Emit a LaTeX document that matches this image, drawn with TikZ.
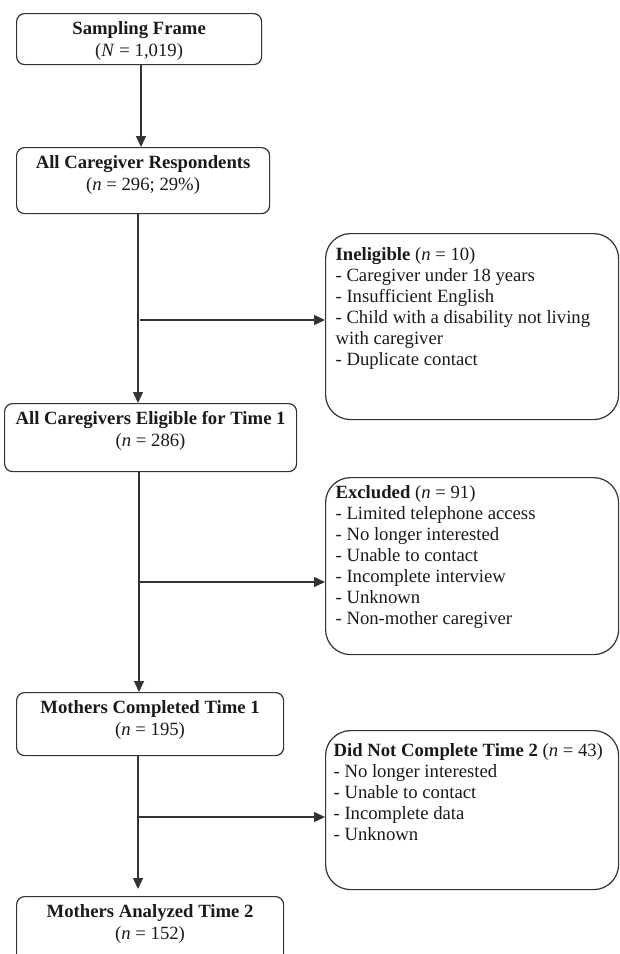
\documentclass[tikz,border=0pt]{standalone}
\usepackage{fontspec}
\setmainfont{Liberation Serif}
\usetikzlibrary{arrows.meta,calc}
\definecolor{linec}{HTML}{333333}
\definecolor{textc}{HTML}{1A1A1A}
\newcommand\mainbody[3]{\begin{minipage}[t][#2][t]{#1}\centering\fontsize{18.7}{22}\selectfont\strut #3\end{minipage}}
\newcommand\sidebody[3]{\begin{minipage}[t][#2][t]{#1}\raggedright\fontsize{18.7}{21}\selectfont\strut #3\end{minipage}}
\begin{document}
\begin{tikzpicture}[x=1pt,y=-1pt,
  text=textc,
  mainbox/.style={draw=linec, line width=1.2pt, rounded corners=8pt, inner xsep=4pt, inner ysep=5pt, anchor=north west},
  sidebox/.style={draw=linec, line width=1.2pt, rounded corners=25pt, inner xsep=10pt, inner ysep=12pt, anchor=north west},
  conn/.style={draw=linec, line width=1.3pt, -{Triangle[length=11pt,width=10pt]}},
  plain/.style={draw=linec, line width=1.3pt}]
\useasboundingbox (0,0) rectangle (620,954);
\clip (0,0) rectangle (620,954);

% main column boxes
\node[mainbox] (b1) at (16,13) {\mainbody{237pt}{41pt}{\textbf{Sampling Frame}\\(\textit{N} = 1,019)}};
\node[mainbox] (b2) at (16,147) {\mainbody{245pt}{56pt}{\textbf{All Caregiver Respondents}\\(\textit{n} = 296; 29\%)}};
\node[mainbox] (b3) at (4,403) {\mainbody{284pt}{58pt}{\textbf{All Caregivers Eligible for Time 1}\\(\textit{n} = 286)}};
\node[mainbox] (b4) at (16,692) {\mainbody{259pt}{53pt}{\textbf{Mothers Completed Time 1}\\(\textit{n} = 195)}};
\node[mainbox] (b5) at (16,896) {\mainbody{259pt}{60pt}{\textbf{Mothers Analyzed Time 2}\\(\textit{n} = 152)}};

% side boxes
\node[sidebox] (inel) at (325,233) {\sidebody{273pt}{162pt}{\textbf{Ineligible} (\textit{n} = 10)\\
- Caregiver under 18 years\\
- Insufficient English\\
- Child with a disability not living\\
with caregiver\\
- Duplicate contact}};
\node[sidebox, inner ysep=6pt] (excl) at (325,477) {\sidebody{273pt}{165pt}{\textbf{Excluded} (\textit{n} = 91)\\
- Limited telephone access\\
- No longer interested\\
- Unable to contact\\
- Incomplete interview\\
- Unknown\\
- Non-mother caregiver}};
\node[sidebox, inner xsep=8pt, inner ysep=11pt] (dnc) at (325,730) {\sidebody{277pt}{137pt}{\mbox{\textbf{Did Not Complete Time 2} (\textit{n} = 43)}\\
- No longer interested\\
- Unable to contact\\
- Incomplete data\\
- Unknown}};

% column and branch coordinates
\coordinate (k0) at (141,0);
\coordinate (k1) at (138,320);
\coordinate (k2) at (139,582);
\coordinate (k3) at (138,817);

% vertical connectors
\draw[conn] (b1.south -| k0) -- (b2.north -| k0);
\draw[conn] (b2.south -| k1) -- (b3.north -| k1);
\draw[conn] (b3.south -| k2) -- (b4.north -| k2);
\draw[conn, shorten >=7pt] (b4.south -| k3) -- (b5.north -| k3);

% branch connectors
\draw[conn] ([xshift=2pt]k1) -- (k1 -| inel.west);
\draw[conn] (k2) -- (k2 -| excl.west);
\draw[conn] (k3) -- (k3 -| dnc.west);
\end{tikzpicture}
\end{document}
